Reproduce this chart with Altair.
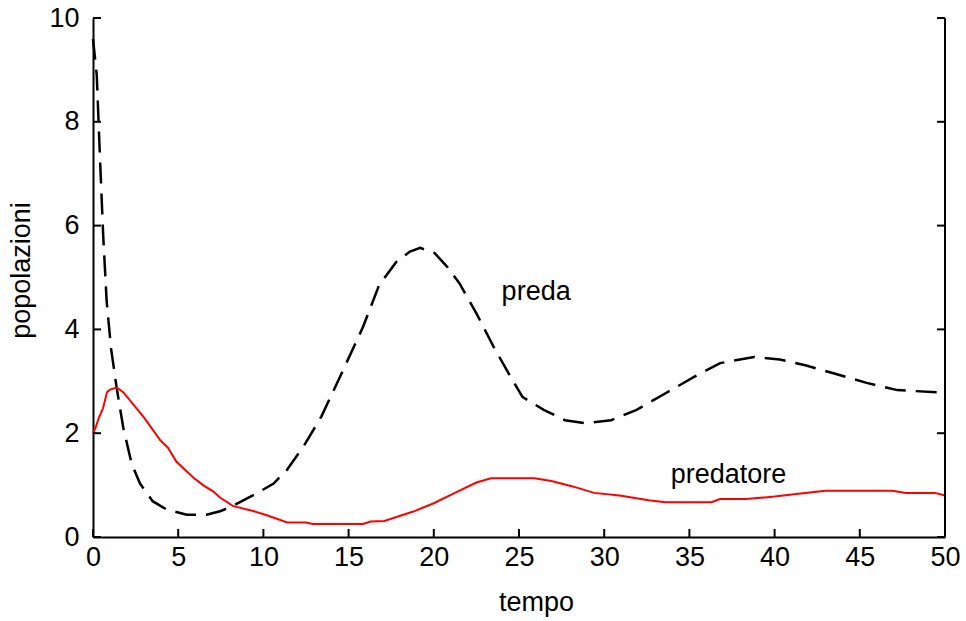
import altair as alt
import pandas as pd

# prey (preda) – dashed black
prey_t = [0, 0.22, 0.41, 0.6, 0.8, 1.06, 1.39, 1.78, 2.27, 2.76, 3.5, 4.32, 5.5, 6.67, 7.5, 8.2,
          9.6, 10.6, 11.4, 12.4, 13.4, 14.6, 15.85, 16.8, 17.8, 18.6, 19.2, 20.05, 20.8, 21.5,
          22.5, 23.5, 24.5, 25.2, 26.45, 27.7, 28.9, 30.4, 31.9, 33.6, 35.3, 36.8, 38.8, 40.3,
          41.8, 43.5, 45.4, 47.2, 50]
prey_v = [9.6, 8.9, 7.3, 5.8, 4.55, 3.63, 2.87, 2.1, 1.41, 1.03, 0.69, 0.53, 0.43, 0.43, 0.5, 0.6,
          0.84, 1.03, 1.3, 1.77, 2.32, 3.16, 4.05, 4.86, 5.3, 5.5, 5.57, 5.47, 5.2, 4.89,
          4.31, 3.67, 3.09, 2.7, 2.45, 2.25, 2.19, 2.25, 2.45, 2.77, 3.09, 3.35, 3.47, 3.42,
          3.31, 3.15, 2.97, 2.83, 2.78]

# predator (predatore) – solid red
pred_t = [0, 0.14, 0.35, 0.59, 0.82, 1.0, 1.4, 1.8, 2.35, 3.0, 3.93, 4.4, 4.9, 5.9, 6.5, 7.05,
          7.45, 8.2, 9.4, 10.2, 11.4, 12.5, 12.9, 15.85, 16.3, 17.1, 18.8, 20.0, 21.3, 22.5,
          23.36, 25.9, 26.9, 28.2, 29.4, 30.9, 32.6, 33.6, 36.3, 36.8, 38.3, 40.0, 41.8, 43.0,
          46.9, 47.7, 49.4, 50]
pred_v = [2.0, 2.1, 2.3, 2.48, 2.79, 2.84, 2.88, 2.78, 2.56, 2.3, 1.87, 1.72, 1.45, 1.14, 0.99, 0.88,
          0.76, 0.6, 0.5, 0.42, 0.28, 0.28, 0.25, 0.25, 0.3, 0.31, 0.49, 0.65, 0.86, 1.05,
          1.13, 1.13, 1.08, 0.97, 0.85, 0.8, 0.71, 0.67, 0.67, 0.73, 0.73, 0.78, 0.85, 0.89,
          0.89, 0.85, 0.85, 0.8]

label_text = ["preda", "predatore"]
label_t = [23.98, 33.9]
label_v = [4.57, 1.04]

x_ticks = [0, 5, 10, 15, 20, 25, 30, 35, 40, 45, 50]
y_ticks = [0, 2, 4, 6, 8, 10]

W, H = 852, 519
FONT = "Liberation Sans"
FS = 27

prey_df = pd.DataFrame({"t": prey_t, "v": prey_v})
pred_df = pd.DataFrame({"t": pred_t, "v": pred_v})
lab_df = pd.DataFrame({"t": label_t, "v": label_v, "s": label_text})
xt_df = pd.DataFrame({"t": x_ticks})
yt_df = pd.DataFrame({"v": y_ticks})

xscale = alt.Scale(domain=[0, 50], nice=False, zero=False)
yscale = alt.Scale(domain=[0, 10], nice=False)

x_axis = alt.Axis(values=x_ticks, title="tempo", grid=False, ticks=False, tickSize=0,
                  domain=True, domainColor="black", domainWidth=2,
                  labelFont=FONT, labelFontSize=FS, labelColor="black", labelPadding=7,
                  labelFlush=False,
                  titleFont=FONT, titleFontSize=FS, titleFontWeight="normal", titleColor="black",
                  titleX=443, titleY=73, titleBaseline="alphabetic", titleAlign="center")
y_axis = alt.Axis(values=y_ticks, title="popolazioni", grid=False, ticks=False, tickSize=0,
                  domain=True, domainColor="black", domainWidth=2,
                  labelFont=FONT, labelFontSize=FS, labelColor="black", labelPadding=14,
                  labelFlush=False,
                  titleFont=FONT, titleFontSize=FS, titleFontWeight="normal", titleColor="black",
                  titleX=-64, titleY=252, titleBaseline="alphabetic", titleAlign="center",
                  titleAngle=270)

prey = alt.Chart(prey_df).mark_line(color="black", strokeWidth=2.5, strokeDash=[21, 10]).encode(
    x=alt.X("t:Q", scale=xscale, axis=x_axis),
    y=alt.Y("v:Q", scale=yscale, axis=y_axis),
)
pred = alt.Chart(pred_df).mark_line(color="#ff0000", strokeWidth=2).encode(
    x=alt.X("t:Q", scale=xscale),
    y=alt.Y("v:Q", scale=yscale),
)
labels = alt.Chart(lab_df).mark_text(font=FONT, fontSize=FS, color="black", align="left",
                                     baseline="alphabetic").encode(
    x=alt.X("t:Q", scale=xscale),
    y=alt.Y("v:Q", scale=yscale),
    text="s:N",
)
right_border = alt.Chart(xt_df).transform_filter("datum.t == 50").mark_rule(
    color="black", strokeWidth=2).encode(x=alt.X("t:Q", scale=xscale))

left_ticks = alt.Chart(yt_df).mark_rule(color="black", strokeWidth=2).encode(
    y=alt.Y("v:Q", scale=yscale), x=alt.value(0), x2=alt.value(8))
right_ticks = alt.Chart(yt_df).mark_rule(color="black", strokeWidth=2).encode(
    y=alt.Y("v:Q", scale=yscale), x=alt.value(W - 8), x2=alt.value(W))
bottom_ticks = alt.Chart(xt_df).mark_rule(color="black", strokeWidth=2).encode(
    x=alt.X("t:Q", scale=xscale), y=alt.value(H - 8), y2=alt.value(H))

chart = alt.layer(prey, pred, labels, right_border, left_ticks, right_ticks, bottom_ticks).properties(
    width=W, height=H,
    autosize=alt.AutoSizeParams(type="none"),
    padding={"left": 93, "top": 18, "right": 21, "bottom": 84},
    background="white",
).configure_view(strokeWidth=0)

chart.save("out.html", embed_options={"renderer": "svg", "actions": False})
